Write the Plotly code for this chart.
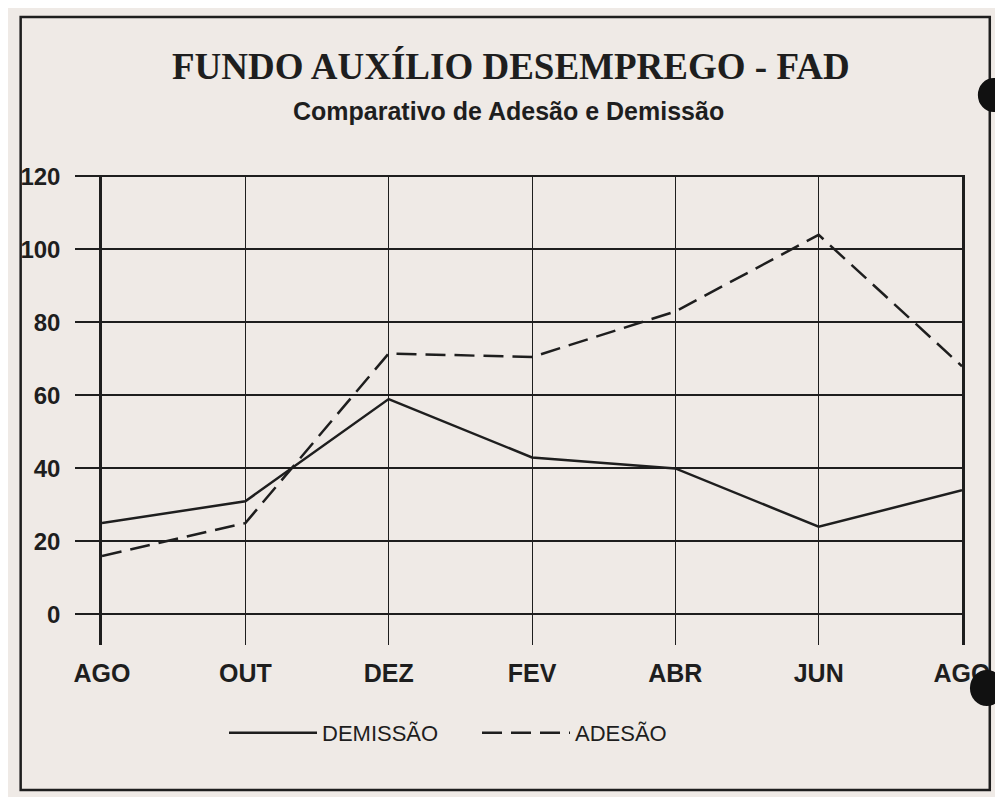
import plotly.graph_objects as go

# ---- data ----
months = ["AGO", "OUT", "DEZ", "FEV", "ABR", "JUN", "AGO"]
demissao = [25, 31, 59, 43, 40, 24, 34]
adesao = [16, 25, 71.5, 70.5, 83, 104, 68]
y_ticks = [0, 20, 40, 60, 80, 100, 120]

title_text = "FUNDO AUXÍLIO DESEMPREGO - FAD"
subtitle_text = "Comparativo de Adesão e Demissão"

# ---- layout geometry (page body has an 8px default margin) ----
OFF = 8
W, H = 1003 - OFF, 797 - OFF
PL, PR, PT, PB = 95, 962, 175, 645  # plot area in screen pixels
ML, MT = PL - OFF, PT - OFF
MR, MB = W - (PR - OFF), H - (PB - OFF)
PW, PH = W - ML - MR, H - MT - MB


def px(x):
    return (x - OFF - ML) / PW


def py(y):
    return (H - MB - (y - OFF)) / PH


NARROW = "Liberation Sans Narrow, Arial Narrow, Liberation Sans, Arial, sans-serif"
INK = "#1e1e1e"
PAPER = "#efeae6"

xpos = list(range(len(months)))

fig = go.Figure()
fig.add_trace(go.Scatter(
    x=xpos, y=demissao, mode="lines", name="DEMISSÃO",
    line=dict(color=INK, width=2.5),
))
fig.add_trace(go.Scatter(
    x=xpos, y=adesao, mode="lines", name="ADESÃO",
    line=dict(color=INK, width=2.5, dash="20px,9px"),
))

shapes = [
    # page frame
    dict(type="rect", xref="paper", yref="paper",
         x0=px(13), x1=px(990), y0=py(790), y1=py(17),
         line=dict(color=INK, width=2.5)),
    # partial boxes at top edge
    dict(type="rect", xref="paper", yref="paper",
         x0=px(16), x1=px(535), y0=py(4), y1=py(-20),
         line=dict(color=INK, width=2)),
    dict(type="rect", xref="paper", yref="paper",
         x0=px(552), x1=px(1010), y0=py(5), y1=py(-20),
         line=dict(color=INK, width=2)),
    # binder holes
    dict(type="circle", xref="paper", yref="paper",
         x0=px(978), x1=px(1010), y0=py(112), y1=py(78),
         fillcolor="#111", line=dict(width=0)),
    dict(type="circle", xref="paper", yref="paper",
         x0=px(970), x1=px(1004), y0=py(706), y1=py(670),
         fillcolor="#111", line=dict(width=0)),
]

annotations = [
    dict(text="<b>" + title_text + "</b>", xref="paper", yref="paper",
         x=px(507), y=py(67), xanchor="center", yanchor="middle",
         showarrow=False,
         font=dict(family="Liberation Serif, Times New Roman, serif", size=37, color=INK)),
    dict(text="<b>" + subtitle_text + "</b>", xref="paper", yref="paper",
         x=px(505), y=py(111), xanchor="center", yanchor="middle",
         showarrow=False,
         font=dict(family=NARROW, size=25, color=INK)),
]

fig.update_layout(
    width=W, height=H,
    margin=dict(l=ML, r=MR, t=MT, b=MB),
    paper_bgcolor=PAPER, plot_bgcolor=PAPER,
    showlegend=True,
    legend=dict(orientation="h", x=px(218), y=py(733), xanchor="left", yanchor="middle",
                font=dict(family=NARROW, size=22, color=INK),
                bgcolor="rgba(0,0,0,0)", entrywidth=150, itemwidth=88),
    shapes=shapes,
    annotations=annotations,
    xaxis=dict(
        range=[0, len(months) - 1],
        tickmode="array", tickvals=xpos, ticktext=months,
        showgrid=True, gridcolor=INK, gridwidth=1,
        zeroline=False, showline=False, ticks="",
        ticklabelstandoff=11,
        tickfont=dict(family=NARROW, size=25, color=INK, weight="bold"),
        fixedrange=True,
    ),
    yaxis=dict(
        range=[-8.4, 120.4],
        tickmode="array", tickvals=y_ticks,
        showgrid=True, gridcolor=INK, gridwidth=1.5,
        zeroline=False,
        showline=True, mirror=True, linecolor=INK, linewidth=2.5,
        ticks="outside", ticklen=24, tickcolor=INK, tickwidth=1.5,
        ticklabelstandoff=10,
        tickfont=dict(family=NARROW, size=24, color=INK, weight="bold"),
        fixedrange=True,
    ),
)

fig.write_html("out.html")
